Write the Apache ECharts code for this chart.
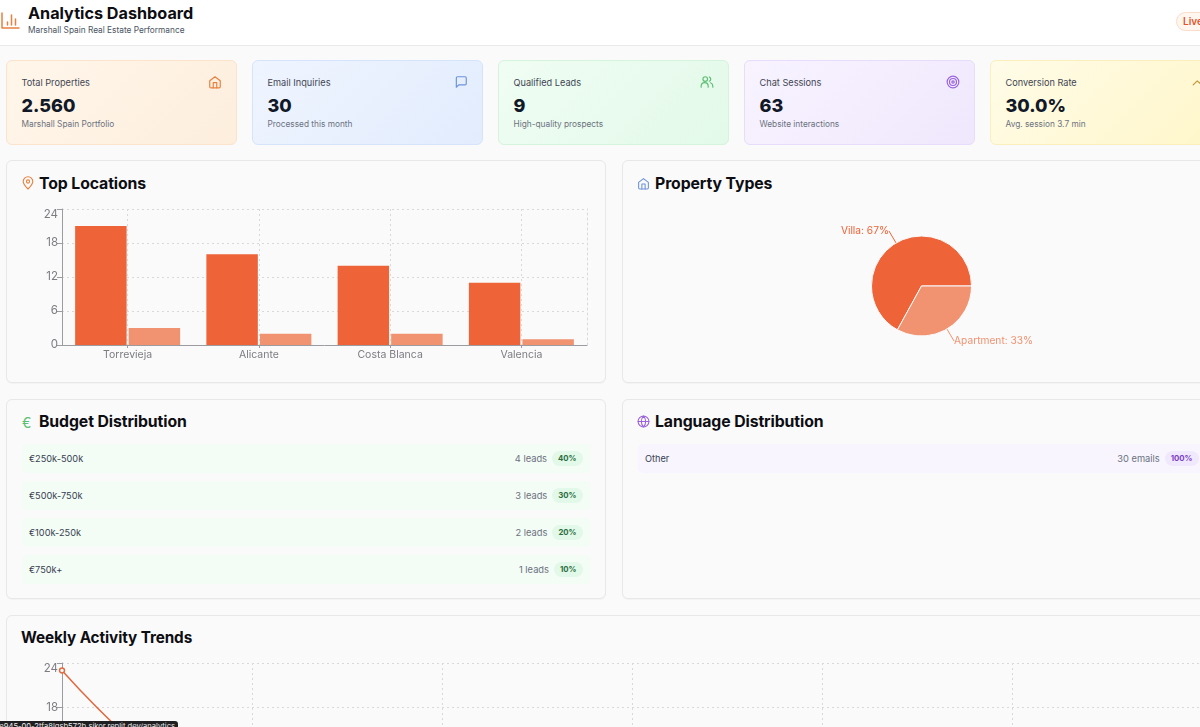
<!DOCTYPE html>
<html>
<head>
<meta charset="utf-8">
<title>Analytics Dashboard</title>
<script src="https://cdn.jsdelivr.net/npm/echarts@6/dist/echarts.min.js"></script>
<style>
html, body { margin: 0; width: 1200px; height: 727px; overflow: hidden; background: #fafafa; }
body { position: relative; font-family: Inter, "Open Sans", sans-serif; color: #111827; }
.abs, .kpi, .panel, .row, .chart, .title { position: absolute; box-sizing: border-box; }
.abs { white-space: nowrap; }
#header { left: 0; top: 0; width: 1200px; height: 45px; background: #fff; border-bottom: 1px solid #e9e9ec; position: absolute; }
.kpi { top: 60px; width: 231px; height: 85px; border-radius: 6px; border: 1px solid; }
.kpi .label { left: 14.500px; top: 16px; font-size: 9.2px; color: #3f4654; }
.kpi .value { left: 14.500px; top: 33.500px; font-size: 18px; font-weight: 800; color: #111827; }
.kpi .sub { left: 14.500px; top: 58px; font-size: 8.3px; color: #6b7280; }
.kpi svg { position: absolute; left: 201px; top: 14px; }
.panel { width: 600px; background: #fafafa; border: 1px solid #e8e8e8; border-radius: 6px; box-shadow: 0 1px 1px rgba(0,0,0,.03); }
.title { font-size: 15.8px; font-weight: 700; color: #0d0d12; white-space: nowrap; letter-spacing: -.1px; }
.row { height: 29px; border-radius: 5px; display: flex; align-items: center; padding: 0 8.500px 0 7px; }
.row .name { flex: 1; font-size: 9.2px; color: #374151; }
.row .count { font-size: 9.300px; color: #6b7280; margin-right: 5px; }
.row .badge { height: 15px; line-height: 15px; padding: 0 6px; border-radius: 8px; font-size: 7.800px; font-weight: 700; }
.chart { overflow: visible; }
#status { left: -4px; top: 721px; width: 182px; height: 12px; background: #1f1f21; border-radius: 3px; color: #e8e8e8; font-size: 7.600px; line-height: 9px; padding: 1px 3px 0 0; overflow: hidden; text-align: right; }
svg { display: block; fill: none; stroke-linecap: round; stroke-linejoin: round; }
</style>
</head>
<body>
<div id="header"></div>
<svg class="abs" style="left:1px;top:12px" width="19" height="17" viewBox="0 0 19 17" stroke="#e8803f" stroke-width="1.500">
  <path d="M1 1v15h17M6.500 13v-3M10.500 13V3M14.500 13V7"/>
</svg>
<div class="abs" style="left:28px;top:3px;font-size:16.200px;font-weight:700;color:#0d0d12">Analytics Dashboard</div>
<div class="abs" style="left:28px;top:25px;font-size:8.300px;color:#4b5563">Marshall Spain Real Estate Performance</div>
<div class="abs" style="left:1176px;top:12px;width:60px;height:19px;border:1px solid #fbdcc8;border-radius:10px;background:#fff6f0;box-sizing:border-box;padding-left:6px;font-size:10px;line-height:17px;font-weight:600;color:#e0552b">Live</div>

<div id="kpis"></div>

<div class="panel" style="left:6px;top:160px;height:223px"></div>
<div class="panel" style="left:622px;top:160px;height:223px"></div>
<div class="panel" style="left:6px;top:399px;height:200px"></div>
<div class="panel" style="left:622px;top:399px;height:200px"></div>
<div class="panel" style="left:6px;top:615px;width:1216px;height:260px"></div>

<svg class="abs" style="left:22px;top:176px" width="12" height="14" viewBox="0 0 12 14" stroke="#e8803f" stroke-width="1.100"><path d="M6 13C3.500 10.500 1.200 8 1.200 5.500a4.800 4.800 0 0 1 9.600 0C10.800 8 8.500 10.500 6 13z"/><circle cx="6" cy="5.500" r="1.600"/></svg>
<div class="title" style="left:39px;top:174px">Top Locations</div>
<svg class="abs" style="left:637px;top:177px" width="13" height="13" viewBox="0 0 24 24" stroke="#6d93dc" stroke-width="2"><path d="M3 10l9-7 9 7v10a2 2 0 0 1-2 2H5a2 2 0 0 1-2-2z"/><path d="M9 22v-9h6v9"/></svg>
<div class="title" style="left:655px;top:174px">Property Types</div>
<div class="abs" style="left:22px;top:414px;font-size:14px;color:#5cbf73">€</div>
<div class="title" style="left:39px;top:412px">Budget Distribution</div>
<svg class="abs" style="left:637px;top:415px" width="13" height="13" viewBox="0 0 24 24" stroke="#9a63dd" stroke-width="2"><circle cx="12" cy="12" r="10"/><path d="M2 12h20M12 2c3 3 4 6.500 4 10s-1 7-4 10c-3-3-4-6.500-4-10s1-7 4-10z"/></svg>
<div class="title" style="left:655px;top:412px">Language Distribution</div>
<div class="title" style="left:21px;top:628px;font-size:15.300px">Weekly Activity Trends</div>

<div id="budgetRows"></div>
<div id="languageRows"></div>

<div id="locationsChart" class="chart" style="left:0;top:190px;width:606px;height:185px"></div>
<div id="typesChart" class="chart" style="left:622px;top:190px;width:600px;height:190px"></div>
<div id="activityChart" class="chart" style="left:0;top:650px;width:1222px;height:220px"></div>

<div id="status" class="abs">e945-00-2tfa8lqsb572b.sikor.replit.dev/analytics</div>

<script>
var kpiLabels = ['Total Properties', 'Email Inquiries', 'Qualified Leads', 'Chat Sessions', 'Conversion Rate'];
var kpiValues = ['2.560', '30', '9', '63', '30.0%'];
var kpiNotes = ['Marshall Spain Portfolio', 'Processed this month', 'High-quality prospects', 'Website interactions', 'Avg. session 3.7 min'];

var locationNames = ['Torrevieja', 'Alicante', 'Costa Blanca', 'Valencia'];
var locationProperties = [21, 16, 14, 11];
var locationLeads = [3, 2, 2, 1];

var typeNames = ['Villa', 'Apartment'];
var typeShares = [67, 33];

var budgetNames = ['€250k-500k', '€500k-750k', '€100k-250k', '€750k+'];
var budgetLeads = [4, 3, 2, 1];
var budgetShares = [40, 30, 20, 10];

var languageNames = ['Other'];
var languageEmails = [30];
var languageShares = [100];

// only the first two points can be seen, the rest of this chart is below the fold
var activityDays = ['Mon', 'Tue', 'Wed', 'Thu', 'Fri', 'Sat', 'Sun'];
var activityValues = [23, 3, 6, null, null, null, null];

var kpiStyles = [
	{ bg: 'linear-gradient(135deg,#fff6ea,#fdeedd)', line: '#fbe3cc', icon: '#e8803f', path: '<path d="M3 10l9-7 9 7v10a2 2 0 0 1-2 2H5a2 2 0 0 1-2-2z"/><path d="M9 22v-9h6v9"/>' },
	{ bg: 'linear-gradient(135deg,#eff5ff,#e2ecfd)', line: '#d6e4fb', icon: '#6d93dc', path: '<path d="M21 15a2 2 0 0 1-2 2H8l-4 4V5a2 2 0 0 1 2-2h13a2 2 0 0 1 2 2z"/>' },
	{ bg: 'linear-gradient(135deg,#f0fdf3,#e2f9e9)', line: '#d5f3dd', icon: '#5cbf73', path: '<circle cx="9" cy="7" r="4"/><path d="M2 21v-2a6 6 0 0 1 12 0v2M16 3.300a4 4 0 0 1 0 7.400M22 21v-2a6 6 0 0 0-4-5.600"/>' },
	{ bg: 'linear-gradient(135deg,#f8f3ff,#efe8fd)', line: '#e7dcfa', icon: '#9a63dd', path: '<circle cx="12" cy="12" r="10"/><circle cx="12" cy="12" r="6"/><circle cx="12" cy="12" r="2"/>' },
	{ bg: 'linear-gradient(135deg,#fffce8,#fff6c9)', line: '#fbf0bd', icon: '#c9973a', path: '<path d="M2 17l7-7 4 4 9-9"/>' }
];

var kpiHtml = '';
kpiLabels.forEach(function(label, i) {
	var st = kpiStyles[i];
	kpiHtml += '<div class="kpi" style="left:' + (6 + i * 246) + 'px;background:' + st.bg + ';border-color:' + st.line + '">' +
		'<div class="abs label">' + label + '</div>' +
		'<div class="abs value">' + kpiValues[i] + '</div>' +
		'<div class="abs sub">' + kpiNotes[i] + '</div>' +
		'<svg width="14" height="14" viewBox="0 0 24 24" stroke="' + st.icon + '" stroke-width="2">' + st.path + '</svg></div>';
});
document.getElementById('kpis').innerHTML = kpiHtml;

var makeRow = function(left, top, bg, name, count, share, badgeBg, badgeColor) {
	return '<div class="row" style="left:' + left + 'px;top:' + top + 'px;width:569px;background:' + bg + '">' +
		'<div class="name">' + name + '</div>' +
		'<div class="count">' + count + '</div>' +
		'<div class="badge" style="background:' + badgeBg + ';color:' + badgeColor + '">' + share + '%</div></div>';
};

var budgetHtml = '';
budgetNames.forEach(function(name, i) {
	budgetHtml += makeRow(22, 444 + i * 37, '#f3fcf5', name, budgetLeads[i] + ' leads', budgetShares[i], '#e2f8e8', '#2c6e3f');
});
document.getElementById('budgetRows').innerHTML = budgetHtml;

var languageHtml = '';
languageNames.forEach(function(name, i) {
	languageHtml += makeRow(638, 444 + i * 37, '#f8f5fe', name, languageEmails[i] + ' emails', languageShares[i], '#f0e8fc', '#7c3fc4');
});
document.getElementById('languageRows').innerHTML = languageHtml;

var AXIS_FONT = 'Inter';
var GRID_LINE = { color: '#d9d9d9', type: [2, 3], width: 1 };
var AXIS_LINE = { color: '#9b9ba0', width: 1 };

var valueAxis = function(max, interval) {
	return [
		{
			type: 'value', min: 0, max: max, interval: interval,
			axisLine: { show: true, lineStyle: AXIS_LINE },
			axisTick: { show: true, length: 5, lineStyle: AXIS_LINE },
			axisLabel: { color: '#7c7c82', fontSize: 11.500, fontFamily: AXIS_FONT, margin: 4, verticalAlignMaxLabel: 'top' },
			splitLine: { show: true, lineStyle: GRID_LINE }
		},
		{
			type: 'value', min: 0, max: max, interval: interval, position: 'right',
			axisLine: { show: true, lineStyle: GRID_LINE },
			axisTick: { show: false }, axisLabel: { show: false }, splitLine: { show: false }
		}
	];
};

echarts.init(document.getElementById('locationsChart')).setOption({
	animation: false,
	grid: { left: 62, top: 19, width: 525, height: 136 },
	xAxis: {
		type: 'category',
		data: locationNames,
		axisLine: { lineStyle: AXIS_LINE },
		axisTick: { show: true, alignWithLabel: true, length: 3, lineStyle: AXIS_LINE },
		axisLabel: { color: '#7c7c82', fontSize: 10.500, fontFamily: AXIS_FONT, margin: 4 },
		splitLine: { show: true, alignWithLabel: true, lineStyle: GRID_LINE }
	},
	yAxis: valueAxis(24, 6),
	series: [
		{ name: 'Properties', type: 'bar', data: locationProperties, barCategoryGap: '20%', barGap: '4%', itemStyle: { color: '#ee6337' } },
		{ name: 'Leads', type: 'bar', data: locationLeads, itemStyle: { color: '#f19271' } }
	]
});

echarts.init(document.getElementById('typesChart')).setOption({
	animation: false,
	color: ['#ee6337', '#f19271'],
	series: [{
		type: 'pie',
		center: [299.5, 96],
		radius: [0, 50],
		startAngle: 0,
		clockwise: false,
		percentPrecision: 0,
		data: typeNames.map(function(name, i) { return { name: name, value: typeShares[i] }; }),
		itemStyle: { borderColor: '#fafafa', borderWidth: 1 },
		label: { formatter: '{b}: {d}%', fontSize: 10.200, fontFamily: AXIS_FONT, color: 'inherit', distanceToLabelLine: 0, padding: [0, 0, 10, 0] },
		labelLine: { length: 14, length2: 0, smooth: false, lineStyle: { width: 1 } }
	}]
});

echarts.init(document.getElementById('activityChart')).setOption({
	animation: false,
	grid: { left: 62, top: 13, width: 1140, height: 178 },
	xAxis: {
		type: 'category',
		boundaryGap: false,
		data: activityDays,
		axisLine: { lineStyle: AXIS_LINE },
		axisTick: { show: true, length: 3, lineStyle: AXIS_LINE },
		axisLabel: { color: '#7c7c82', fontSize: 10.500, fontFamily: AXIS_FONT },
		splitLine: { show: true, lineStyle: GRID_LINE }
	},
	yAxis: valueAxis(24, 6),
	series: [{
		name: 'Activity',
		type: 'line',
		data: activityValues,
		smooth: 0.3,
		smoothMonotone: 'x',
		symbol: 'circle',
		symbolSize: 5,
		showSymbol: true,
		lineStyle: { color: '#e0693f', width: 1.5 },
		itemStyle: { color: '#fafafa', borderColor: '#e0693f', borderWidth: 1.5 }
	}]
});
</script>
</body>
</html>
